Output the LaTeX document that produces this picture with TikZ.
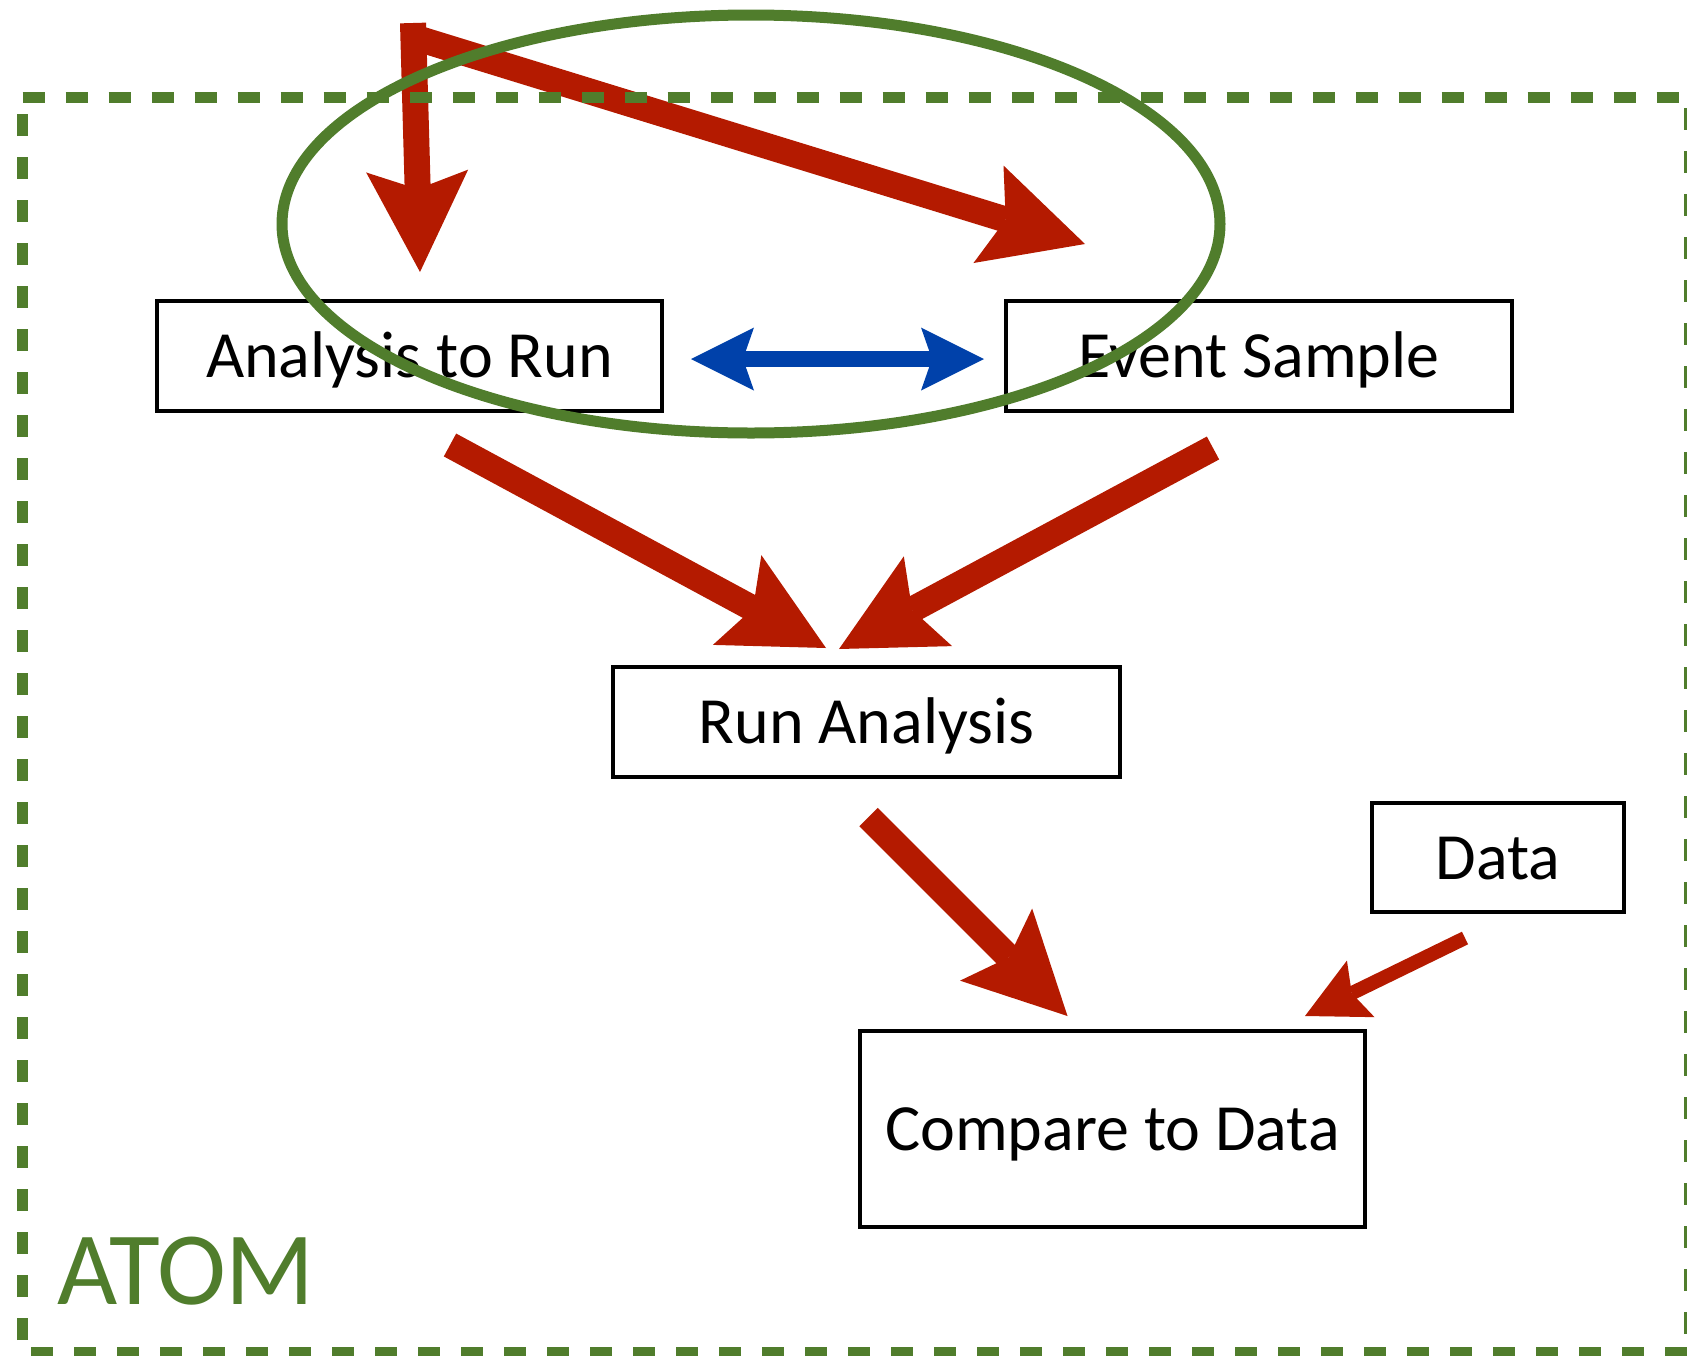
\documentclass[tikz,border=0pt]{standalone}
\usepackage{fontspec}
\setmainfont{Carlito}
\usetikzlibrary{arrows.meta}
\definecolor{atomgreen}{HTML}{507D2C}
\definecolor{arrred}{HTML}{B41A00}
\definecolor{arrblue}{HTML}{0041AA}
\tikzset{
  box/.style={draw=black, line width=4.5pt, inner sep=0pt, text height=43pt, text depth=0pt,
    font=\fontsize{66}{80}\selectfont},
  bigarrow/.style={draw=arrred, line width=26pt, line cap=butt,
    -{Stealth[length=101pt,width=102pt,inset=18pt,line width=0pt]}},
  smallarrow/.style={draw=arrred, line width=14pt, line cap=butt,
    -{Stealth[length=62pt,width=63pt,inset=10pt,line width=0pt]}},
  bluearrow/.style={draw=arrblue, line width=16pt,
    {Stealth[length=63pt,width=63pt,inset=11pt,line width=0pt]}-{Stealth[length=63pt,width=63pt,inset=11pt,line width=0pt]}},
  border/.style={draw=atomgreen, line width=11pt, dash pattern=on 22pt off 21pt},
  ring/.style={draw=atomgreen, line width=11pt}
}
\begin{document}
\begin{tikzpicture}[x=1pt,y=-1pt]
\useasboundingbox (0,0) rectangle (1687,1355);

% boxes
\node[box, minimum width=505pt, minimum height=110pt] (atr) at (409.5,356) {Analysis to Run};
\node[box, minimum width=506pt, minimum height=110pt] (es) at (1259,356) {Event Sample};
\node[box, minimum width=507pt, minimum height=110pt] (ra) at (866.5,722) {Run Analysis};
\node[box, minimum width=252pt, minimum height=109pt] (data) at (1498,857.5) {Data};
\node[box, minimum width=505pt, minimum height=196pt] (cmp) at (1112.5,1129) {Compare to Data};

% connector end points
\coordinate (srcA) at (413,23);
\coordinate (srcB) at (413,37);
\coordinate (tipA) at (420,272);
\coordinate (tipB) at (1085,244);
\coordinate (atrout) at (450,445);
\coordinate (raleft) at (826,648);
\coordinate (esout) at (1213,448);
\coordinate (raright) at (839,649);
\coordinate (raout) at (868.5,817);
\coordinate (cmpleft) at (1067.5,1016);
\coordinate (dataout) at (1465,938);
\coordinate (cmpright) at (1305,1016);
\coordinate (bl) at (691,359);
\coordinate (br) at (984,359);

% red arrows
\draw[bigarrow] (srcA) -- (tipA);
\draw[bigarrow] (srcB) -- (tipB);
\draw[bigarrow] (atrout) -- (raleft);
\draw[bigarrow] (esout) -- (raright);
\draw[bigarrow] (raout) -- (cmpleft);
\draw[smallarrow] (dataout) -- (cmpright);

% blue double arrow
\draw[bluearrow] (bl) -- (br);

% dashed ATOM border
\draw[border] (22.5,97) -- (1689,97) -- (1689,1352.5) -- (22.5,1352.5) -- cycle;

% ellipse
\draw[ring] (751,224) ellipse [x radius=469, y radius=209];

% label
\node[anchor=base west, inner sep=0pt, text=atomgreen, font=\fontsize{104}{116}\selectfont] (atom) at (57,1304) {ATOM};
\end{tikzpicture}
\end{document}
